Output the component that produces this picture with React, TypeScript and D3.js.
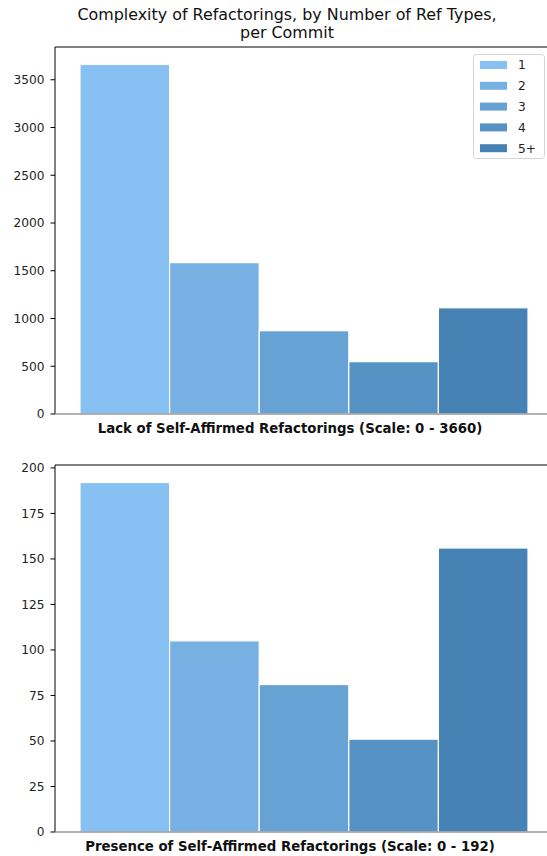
import React from "react";
import * as d3 from "d3";

const categories = ["1", "2", "3", "4", "5+"];
const colors = ["#87c1f3", "#77b1e3", "#67a2d4", "#5692c4", "#4682b4"];
const lackValues = [3660, 1585, 872, 548, 1112];
const presenceValues = [192, 105, 81, 51, 156];
const lackTicks = [0, 500, 1000, 1500, 2000, 2500, 3000, 3500];
const presenceTicks = [0, 25, 50, 75, 100, 125, 150, 175, 200];
const titleLines = ["Complexity of Refactorings, by Number of Ref Types,", "per Commit"];
const lackLabel = "Lack of Self-Affirmed Refactorings (Scale: 0 - 3660)";
const presenceLabel = "Presence of Self-Affirmed Refactorings (Scale: 0 - 192)";

const W = 547;
const H = 856;
const FONT = "DejaVu Sans, sans-serif";

type PanelProps = {
  values: number[];
  ticks: number[];
  label: string;
  top: number;
  bottom: number;
  legend?: boolean;
};

function Panel({ values, ticks, label, top, bottom, legend }: PanelProps) {
  const left = 55;
  const right = 553;
  const maxV = d3.max(values) as number;
  const y = d3.scaleLinear().domain([0, maxV * 1.05]).range([bottom, top]);
  const x = d3
    .scaleBand()
    .domain(categories)
    .range([80, 528])
    .paddingInner(0)
    .paddingOuter(0);
  return (
    <g>
      {values.map((v, i) => (
        <rect
          key={i}
          x={x(categories[i])}
          y={y(v)}
          width={x.bandwidth()}
          height={y(0) - y(v)}
          fill={colors[i]}
          stroke="#ffffff"
          strokeWidth={1.2}
        />
      ))}
      <line x1={left} x2={left} y1={top} y2={bottom} stroke="#000" strokeWidth={1} />
      <line x1={left} x2={right} y1={top} y2={top} stroke="#000" strokeWidth={1} />
      <line x1={left} x2={right} y1={bottom} y2={bottom} stroke="#999" strokeWidth={1.3} />
      {ticks.map((t) => (
        <g key={t}>
          <line x1={left - 4.5} x2={left} y1={y(t)} y2={y(t)} stroke="#000" strokeWidth={1} />
          <text
            x={left - 10.5}
            y={y(t)}
            dy="0.36em"
            textAnchor="end"
            fontSize={12.2}
            fontFamily={FONT}
            fill="#222"
          >
            {t}
          </text>
        </g>
      ))}
      <text
        x={290}
        y={bottom + 18.5}
        textAnchor="middle"
        fontSize={13.3}
        fontWeight="bold"
        fontFamily={FONT}
        fill="#111"
      >
        {label}
      </text>
      {legend && (
        <g>
          <rect
            x={473.5}
            y={54.5}
            width={71}
            height={104}
            rx={3}
            fill="#fff"
            fillOpacity={0.8}
            stroke="#d5d5d5"
          />
          {categories.map((c, i) => (
            <g key={c}>
              <rect x={480} y={61 + i * 20.8} width={27} height={8} fill={colors[i]} />
              <text
                x={518}
                y={65 + i * 20.8}
                dy="0.36em"
                fontSize={12.2}
                fontFamily={FONT}
                fill="#222"
              >
                {c}
              </text>
            </g>
          ))}
        </g>
      )}
    </g>
  );
}

export default function App() {
  return (
    <svg
      width={W}
      height={H}
      style={{ position: "absolute", left: 0, top: 0, background: "#fff" }}
    >
      <rect x={0} y={0} width={W} height={H} fill="#fff" />
      {titleLines.map((t, i) => (
        <text
          key={i}
          x={287}
          y={20 + i * 17.5}
          textAnchor="middle"
          fontSize={15.9}
          fontFamily={FONT}
          fill="#111"
        >
          {t}
        </text>
      ))}
      <Panel values={lackValues} ticks={lackTicks} label={lackLabel} top={47} bottom={414} legend />
      <Panel values={presenceValues} ticks={presenceTicks} label={presenceLabel} top={465} bottom={832} />
    </svg>
  );
}
